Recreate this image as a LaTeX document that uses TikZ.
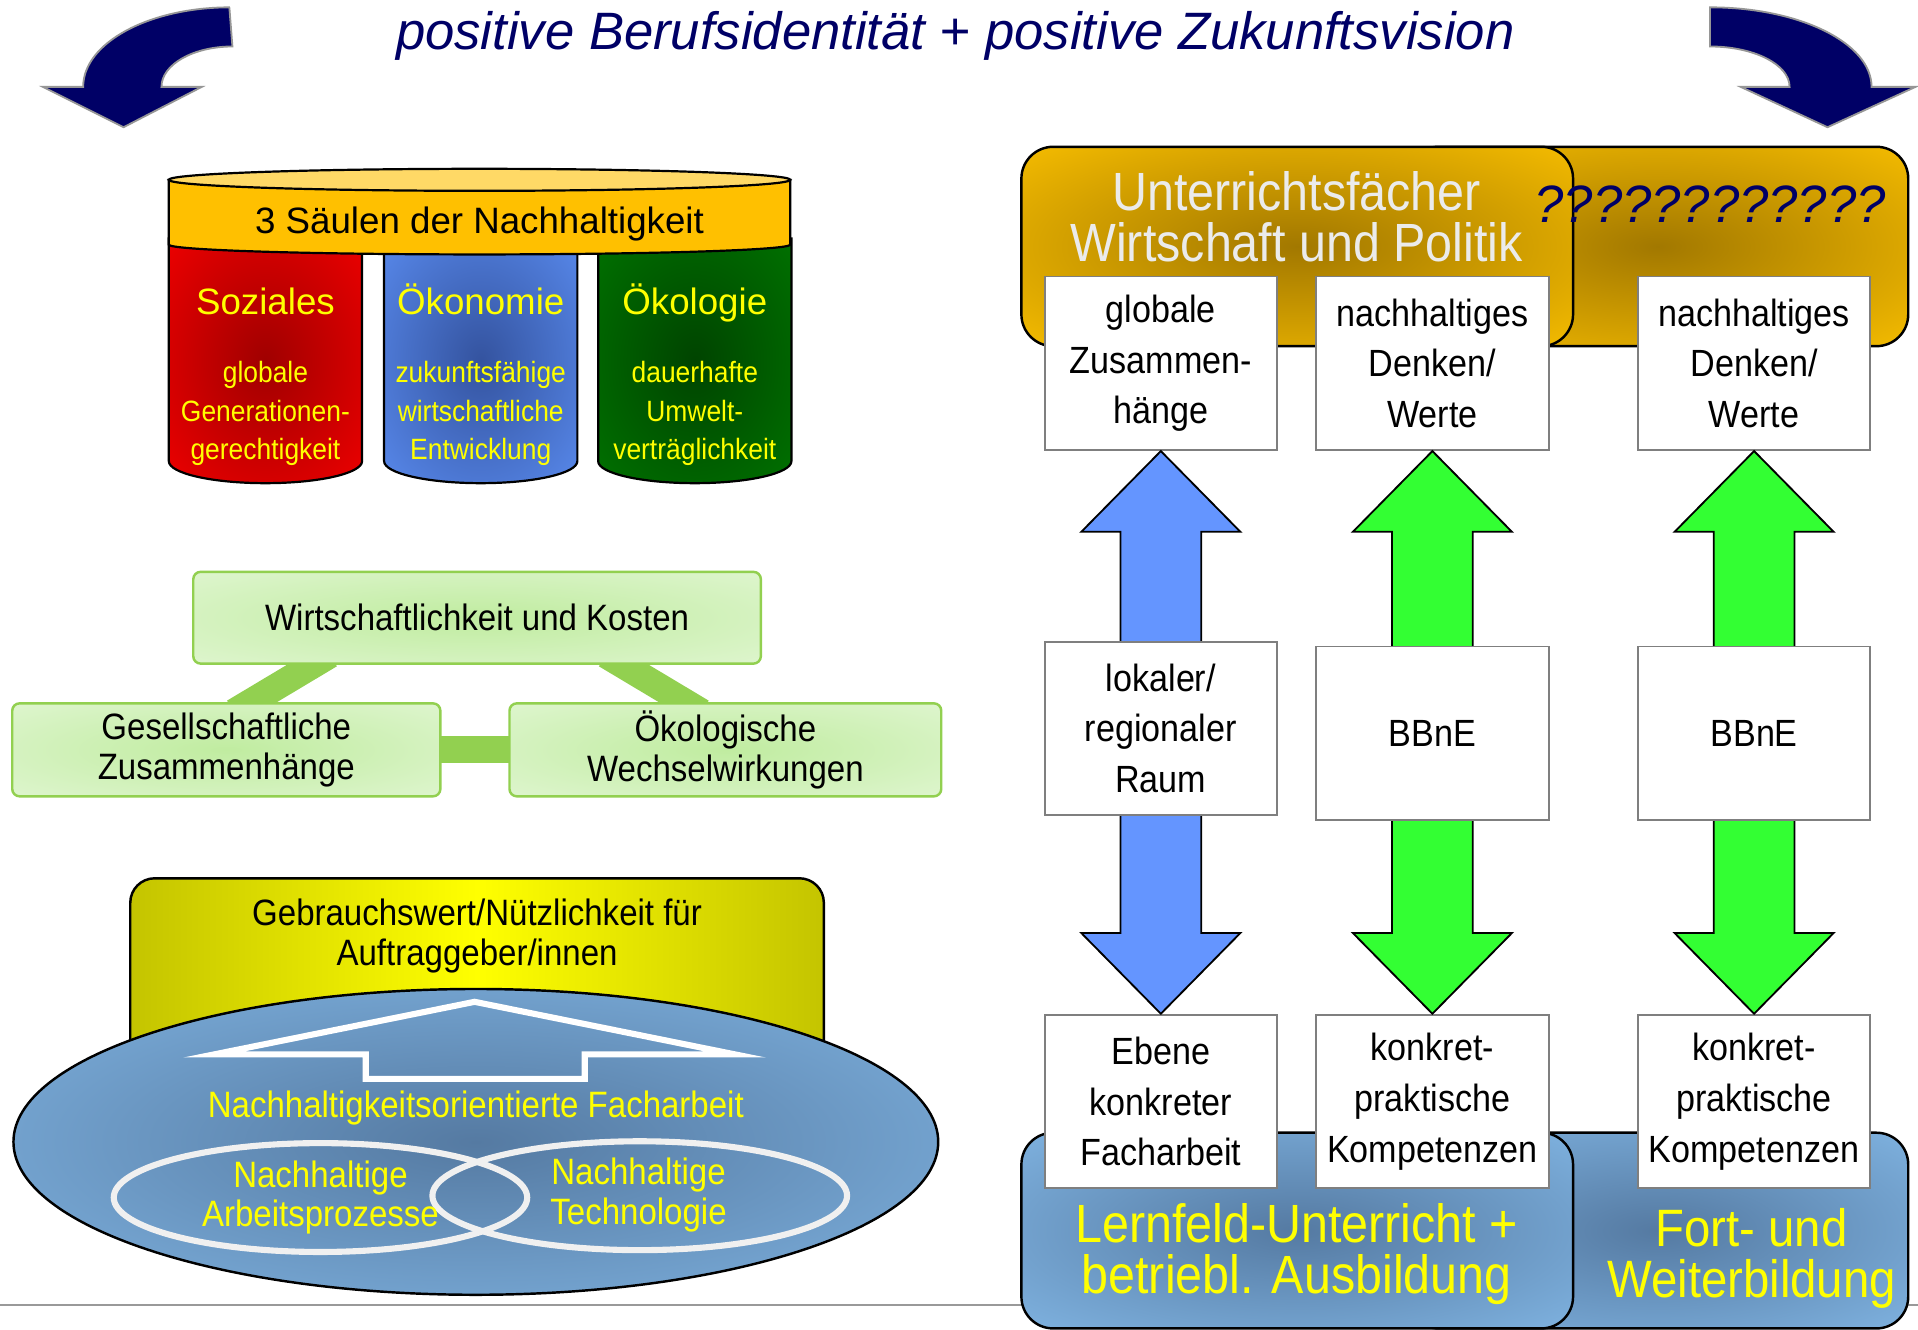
\documentclass[tikz,border=0pt]{standalone}
\usepackage{fontspec}
\setmainfont{Liberation Sans}
\newfontfamily\narrowfont{Liberation Sans}[FakeStretch=0.9]
\usetikzlibrary{backgrounds,calc}

\definecolor{titlenavy}{HTML}{000066}
\definecolor{arrowrim}{HTML}{969696}
\definecolor{bandorange}{HTML}{FFC000}
\definecolor{bandtop}{HTML}{FFD966}
\definecolor{redin}{HTML}{A00000}
\definecolor{redout}{HTML}{F20000}
\definecolor{bluein}{HTML}{34539F}
\definecolor{blueout}{HTML}{5A8CF0}
\definecolor{greenin}{HTML}{004400}
\definecolor{greenout}{HTML}{007400}
\definecolor{signyellow}{HTML}{FFFF00}
\definecolor{boxgreen}{HTML}{92D050}
\definecolor{mintin}{HTML}{C0ECA0}
\definecolor{mintout}{HTML}{EAF9E0}
\definecolor{oliveedge}{HTML}{C4C400}
\definecolor{lemon}{HTML}{FFFF00}
\definecolor{skyin}{HTML}{557AA2}
\definecolor{skyout}{HTML}{8FC8F8}
\definecolor{goldin}{HTML}{A27800}
\definecolor{goldout}{HTML}{FAC000}
\definecolor{boxgray}{HTML}{7F7F7F}
\definecolor{labelgray}{HTML}{EBEBEB}
\definecolor{arrowblue}{HTML}{6495FF}
\definecolor{arrowgreen}{HTML}{33FF33}
\definecolor{ringwhite}{HTML}{F0F0F0}
\definecolor{rulegray}{HTML}{999999}

% radial glows whose two colours are set per path
\colorlet{glowin}{white}\colorlet{glowout}{white}
\pgfdeclareradialshading[glowin,glowout]{softglow}{\pgfpoint{0bp}{0bp}}%
  {color(0bp)=(glowin); color(50bp)=(glowout)}
\pgfdeclareradialshading[glowin,glowout]{spotglow}{\pgfpoint{0bp}{0bp}}%
  {color(0bp)=(glowin); color(38bp)=(glowout); color(50bp)=(glowout)}

\tikzset{
  glowfill/.style 2 args={/utils/exec={\colorlet{glowin}{#1}\colorlet{glowout}{#2}}, shade, shading=softglow},
  spotfill/.style 2 args={/utils/exec={\colorlet{glowin}{#1}\colorlet{glowout}{#2}}, shade, shading=spotglow},
  swoosh/.style={fill=titlenavy, draw=arrowrim, line width=1.5pt},
  pillarline/.style={draw=black, line width=1.8pt},
  headtext/.style={text=signyellow, anchor=base, font=\fontsize{30}{34}\selectfont},
  pillartxt/.style={text=signyellow, align=center, inner sep=0pt, font=\narrowfont\fontsize{24}{31.5}\selectfont},
  aspectbox/.style={draw=boxgreen, line width=2pt, rounded corners=6pt, glowfill={mintin}{mintout},
    minimum height=75pt, inner sep=0pt, align=center, font=\narrowfont\fontsize{30}{32.5}\selectfont},
  linkbar/.style={boxgreen, line width=22pt, shorten <=-16pt, shorten >=-16pt},
  ringtxt/.style={text=signyellow, align=center, inner sep=0pt, font=\narrowfont\fontsize{30}{32.5}\selectfont},
  fachbox/.style={draw=black, line width=2pt, rounded corners=26pt, spotfill={goldin}{goldout}, minimum height=163pt},
  lernbox/.style={draw=black, line width=2pt, rounded corners=26pt, glowfill={skyin}{skyout}, minimum height=160pt},
  biglabel/.style={align=center, inner sep=0pt, font=\narrowfont\fontsize{44}{42}\selectfont},
  wbox/.style={draw=boxgray, line width=1.5pt, fill=white, minimum width=190pt, minimum height=142pt,
    inner sep=0pt, align=center, font=\narrowfont\fontsize{31}{41.5}\selectfont},
  blockarrow/.style={draw=black, line width=1.5pt, line join=miter},
}

\begin{document}
\begin{tikzpicture}[x=1pt,y=-1pt]
\useasboundingbox (0,0) rectangle (1568,1087);
\begin{pgfonlayer}{background}
  \fill[white] (0,0) rectangle (1568,1087);
\end{pgfonlayer}

% rule at the foot of the slide
\draw[rulegray, line width=1.5pt] (0,1067) -- (1568,1067);

% headline and the two turning arrows
\node[text=titlenavy, font=\itshape\fontsize{43}{48}\selectfont] (headline) at (781,29) {positive Berufsidentität + positive Zukunftsvision};
\draw[swoosh] (187.5,6) -- (190,38) arc[start angle=270, end angle=180, x radius=58, y radius=33]
  -- (165,71) -- (101,104) -- (35,71) -- (68,71) arc[start angle=180, end angle=270, x radius=120, y radius=65] -- cycle;
\draw[swoosh] (1398,6) arc[start angle=270, end angle=360, x radius=132, y radius=65]
  -- (1566,71) -- (1494,104) -- (1423,71) -- (1463,71) arc[start angle=0, end angle=-90, x radius=65, y radius=33] -- cycle;

% three pillars under one roof
\foreach \xl/\cin/\cout in {138/redin/redout, 314/bluein/blueout, 489/greenin/greenout}
  \draw[pillarline, spotfill={\cin}{\cout}] (\xl,195) -- (\xl,377)
    arc[start angle=180, end angle=0, x radius=79, y radius=18] -- (\xl+158,195) -- cycle;
\draw[pillarline, fill=bandorange] (138,147) -- (138,200) arc[start angle=180, end angle=0, x radius=254, y radius=8] -- (646,147) -- cycle;
\draw[pillarline, fill=bandtop] (392,147) ellipse[x radius=254, y radius=9];
\node[font=\fontsize{30}{34}\selectfont] (roof) at (392,183) {3 Säulen der Nachhaltigkeit};
\node[headtext] (sozial) at (217,257) {Soziales};
\node[headtext] (oekon) at (393,257) {Ökonomie};
\node[headtext] (oekol) at (568,257) {Ökologie};
\node[pillartxt] (sozialtxt) at (217,338) {globale\\Generationen-\\gerechtigkeit};
\node[pillartxt] (oekontxt) at (393,338) {zukunftsfähige\\wirtschaftliche\\Entwicklung};
\node[pillartxt] (oekoltxt) at (568,338) {dauerhafte\\Umwelt-\\verträglichkeit};

% triangle of aspects
\node[aspectbox, minimum width=464pt] (wk) at (390,505) {Wirtschaftlichkeit und Kosten};
\node[aspectbox, minimum width=350pt, minimum height=76pt] (gz) at (185,613) {Gesellschaftliche\\Zusammenhänge};
\node[aspectbox, minimum width=353pt, minimum height=76pt] (ow) at (593,613) {Ökologische\\Wechselwirkungen};
\begin{pgfonlayer}{background}
  \draw[linkbar] ($(wk.south)+(-134,0)$) -- ($(gz.north)+(20,0)$);
  \draw[linkbar] ($(wk.south)+(119,0)$) -- ($(ow.north)+(-33,0)$);
  \draw[linkbar] (gz) -- (ow);
\end{pgfonlayer}

% use value and sustainable work
\node[draw=black, line width=2pt, rounded corners=20pt, left color=oliveedge, right color=oliveedge, middle color=lemon,
  minimum width=567pt, minimum height=190pt] (nutzen) at (390,813) {};
\node[align=center, inner sep=0pt, font=\narrowfont\fontsize{30}{33}\selectfont] (nutzentxt) at (390,765) {Gebrauchswert/Nützlichkeit für\\Auftraggeber/innen};
\draw[line width=2pt, glowfill={skyin}{skyout}] (389,933.5) ellipse[x radius=378, y radius=125];
\draw[white, line width=5pt, line join=miter, miter limit=20] (388,819) -- (601,862) -- (478,862) -- (478,882)
  -- (299,882) -- (299,862) -- (175,862) -- cycle;
\draw[ringwhite, line width=5pt] (262,979) ellipse[x radius=169, y radius=44.5];
\draw[ringwhite, line width=5pt] (523,977.5) ellipse[x radius=169.5, y radius=44.5];
\node[ringtxt] (facharbeit) at (389,906) {Nachhaltigkeitsorientierte Facharbeit};
\node[ringtxt] (prozesse) at (262,979) {Nachhaltige\\Arbeitsprozesse};
\node[ringtxt] (technik) at (522,977) {Nachhaltige\\Technologie};

% school subjects, training and the links between levels
\node[fachbox, minimum width=410pt] (fragen) at (1355,201.5) {};
\node[fachbox, minimum width=451pt] (wipo) at (1060.5,201.5) {};
\node[lernbox, minimum width=410pt] (fortb) at (1355,1006) {};
\node[lernbox, minimum width=451pt] (lernf) at (1060.5,1006) {};
\node[biglabel, text=labelgray] (wipotxt) at (1060,177) {Unterrichtsfächer\\Wirtschaft und Politik};
\node[text=titlenavy, inner sep=0pt, font=\itshape\fontsize{43}{48}\selectfont] (fragentxt) at (1398,167) {????????????};
\node[biglabel, text=signyellow] (lernftxt) at (1060,1025) {Lernfeld-Unterricht +\\betriebl. Ausbildung};
\node[biglabel, text=signyellow, font=\narrowfont\fontsize{43}{42}\selectfont] (fortbtxt) at (1432,1029) {Fort- und\\Weiterbildung};

\node[wbox] (zush) at (949,297) {globale\\Zusammen-\\hänge};
\node[wbox] (denkwp) at (1171,297) {nachhaltiges\\Denken/\\Werte};
\node[wbox] (denkfw) at (1434,297) {nachhaltiges\\Denken/\\Werte};
\node[wbox] (ebene) at (949,900.5) {Ebene\\konkreter\\Facharbeit};
\node[wbox] (kompwp) at (1171,900.5) {konkret-\\praktische\\Kompetenzen};
\node[wbox] (kompfw) at (1434,900.5) {konkret-\\praktische\\Kompetenzen};
\foreach \src/\dst/\tint in {zush/ebene/arrowblue, denkwp/kompwp/arrowgreen, denkfw/kompfw/arrowgreen}
  \draw[blockarrow, fill=\tint] (\src.south) -- ++(65,66) -- ++(-32,0) -- ($(\dst.north)+(33,-66)$) -- ++(32,0)
    -- (\dst.north) -- ++(-65,-66) -- ++(32,0) -- ($(\src.south)+(-33,66)$) -- ++(-32,0) -- cycle;
\node[wbox] (raum) at (949,595.5) {lokaler/\\regionaler\\Raum};
\node[wbox] (bbnewp) at (1171,599.5) {BBnE};
\node[wbox] (bbnefw) at (1434,599.5) {BBnE};
\end{tikzpicture}
\end{document}
